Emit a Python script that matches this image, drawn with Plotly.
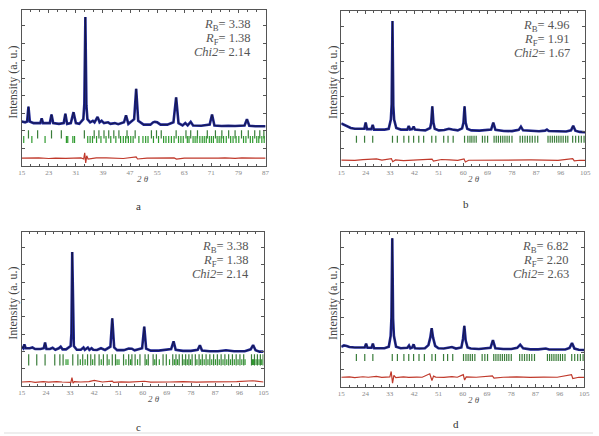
import plotly.graph_objects as go

# ---------------- Panel a ----------------
a_x = [15, 16, 16.6, 17.0, 17.4, 18.5, 20.5, 20.9, 21.3, 23.3, 23.8, 24.3, 26, 27.4, 27.9, 28.4,
       29.5, 30.3, 31, 32, 33.2, 33.5, 33.8, 34.1, 34.4, 35.2, 36, 36.5, 37.4, 38, 38.6, 39.3, 40.5,
       41.2, 42.5, 43.5, 45.2, 45.8, 46.5, 48.2, 48.8, 49.4, 51, 53, 53.8, 54.3, 55, 56, 58,
       59.8, 60.6, 61.3, 62.5, 63.3, 64, 64.9, 65.6, 68, 70.5, 71.2, 71.9, 74, 76, 78, 80.8,
       81.5, 82.2, 84, 87]
a_obs = [28.5, 28, 28.5, 38, 28.5, 27.5, 27.5, 30.5, 27.5, 27.5, 33, 27.5, 27, 27.5, 33.5, 27,
         27.5, 34.5, 27.5, 27, 30, 40, 95.5, 39, 30, 28, 29, 28, 31.5, 28, 29, 27.5, 28,
         27, 27.5, 26.8, 28, 32.5, 27, 30, 49.5, 29, 26.5, 26.5, 28, 28.3, 28, 26.5, 26.5,
         28, 44, 27.5, 26, 27.5, 26, 28.3, 26, 25.8, 26.5, 33, 26, 25.6, 25.8, 25.6, 26,
         30, 25.8, 25.5, 25.5]
a_dx = [15, 18, 20, 23, 25, 28, 30, 32.5, 33.3, 33.6, 33.9, 34.2, 34.6, 37, 40, 43, 45, 48.8, 49.2,
        52, 55, 58, 60, 60.7, 63, 65, 68, 70, 73, 75, 78, 80, 83, 87]
a_diff = [5, 5.3, 5.2, 4.8, 5.1, 4.9, 5, 5.2, 4.5, 8.5, 2, 6.5, 4.5, 5.2, 5.2, 4.9, 4.8, 5.8, 4.5,
          5.1, 5, 4.9, 5.2, 4.4, 5.1, 5, 4.9, 5.1, 5, 5.2, 4.9, 5.2, 5, 5]
a_bragg1 = [17.0, 19.7, 23.8, 26.7, 33.5, 36.4, 37.8, 39.3, 40.7, 42.2, 43.7, 46.1, 48.5, 53.3, 54.8,
            56.2, 60.6, 63.5, 64.9, 66.9, 69.8, 72.2, 74.1, 76.1, 78.0, 79.9, 81.9, 83.8, 85.3, 86.5]
a_bragg2 = [15.6, 18.0, 21.9, 28.2, 28.6, 30.1, 30.6, 34.5, 35.2, 35.9, 37.1, 38.4, 39.9, 41.3, 42.8,
            44.2, 45.0, 45.7, 46.5, 47.2, 47.9, 49.6, 50.8, 51.6, 52.3, 53.9, 55.4, 56.9, 57.6, 58.4,
            59.2, 60.0, 61.3, 62.0, 62.7, 63.9, 64.4, 65.6, 66.2, 66.8, 67.6, 68.3, 68.9, 69.5, 70.4,
            71.0, 71.6, 72.7, 73.3, 73.9, 74.6, 75.4, 76.7, 77.4, 78.3, 79.1, 80.5, 81.2, 82.5, 83.2,
            84.4, 85.0, 85.9, 86.6]
a_ticks = [15, 23, 31, 39, 47, 55, 63, 71, 79, 87]
a_text = ["3.38", "1.38", "2.14"]

# ---------------- Panel b ----------------
b_x = [15, 16, 17, 18.5, 20, 22, 23.5, 24.0, 24.5, 26.1, 26.6, 27.1, 29, 31, 32.5, 33.3, 33.6, 33.9,
       34.2, 34.5, 35.3, 37, 39.4, 39.9, 40.4, 41.2, 41.7, 42.2, 44, 46, 47.8, 48.2, 48.6, 49.0, 49.5,
       51, 53, 54.7, 56, 58, 59.6, 60.1, 60.5, 60.9, 61.5, 63, 66, 70.3, 71.1, 71.9, 75, 78, 80.5,
       81.3, 82.1, 85, 88, 90.2, 90.9, 91.6, 95, 98, 99.8, 100.6, 101.4, 103, 105]
b_obs = [27.5, 26.5, 25.5, 24.5, 24, 23.8, 24, 28, 23.8, 23.8, 26.5, 23.5, 23.5, 23.5, 24, 30, 40,
         93.5, 39, 30, 24.5, 23.5, 23.5, 25.8, 23.5, 23.8, 25.5, 23.5, 23.2, 23, 24.5, 28, 38.5, 28,
         24, 23, 23.2, 24, 23.5, 23, 24.3, 28, 38.5, 28, 24, 23, 22.8, 23.5, 28, 23.3, 22.6, 22.5,
         23.3, 25.4, 23, 22.5, 22.4, 22.8, 23.5, 22.6, 22.3, 22.3, 23, 26, 22.8, 22, 21.8]
b_dx = [15, 18, 20, 23, 25, 28, 30, 33.5, 34, 35, 38, 40, 43, 45, 48.5, 49, 52, 55, 58, 60.3, 60.8,
        62, 66, 70, 75, 80, 85, 90, 95, 100.4, 101, 103, 105]
b_diff = [3.8, 3.4, 3.6, 4.1, 4.2, 4.6, 3.8, 4.7, 2.8, 3.9, 3.5, 3.7, 3.9, 3.8, 4.5, 3.2, 4.2, 3.9,
          3.6, 4.6, 2.6, 3.7, 3.8, 3.9, 3.6, 3.7, 3.9, 3.8, 3.6, 4.8, 3.3, 3.7, 3.6]
b_bragg = [20.6, 23.6, 26.6, 33.9, 35.7, 38.1, 39.9, 41.7, 43.6, 45.4, 48.4, 49.9, 52.8, 54.4, 56.3,
           60.5, 61.7, 62.5, 63.2, 64.0, 64.8, 67.1, 68.0, 69.0, 71.4, 72.2, 73.0, 73.8, 74.6, 75.4,
           76.2, 77.0, 78.0, 81.0, 81.9, 82.8, 83.7, 84.6, 85.5, 86.5, 87.5, 91.3, 92.1, 92.9, 93.7,
           94.5, 95.3, 96.1, 96.9, 97.8, 98.6, 100.4, 101.5, 102.6, 103.6, 104.6]
bcd_ticks = [15, 24, 33, 42, 51, 60, 69, 78, 87, 96, 105]
b_text = ["4.96", "1.91", "1.67"]

# ---------------- Panel c ----------------
c_x = [15, 15.6, 16.0, 16.5, 18, 19, 20, 22, 23.2, 23.7, 24.2, 25.5, 26.5, 27.5, 28.8, 29.5, 30.2,
       31.5, 33.2, 33.5, 33.8, 34.1, 34.4, 35.5, 37, 38, 38.5, 39.6, 40.2, 41, 41.6, 43, 44.5, 46,
       48.0, 48.7, 49.4, 50.5, 53, 54.8, 56, 57, 59.8, 60.6, 61.3, 63, 66, 70.6, 71.5, 72.3, 75,
       78, 80.5, 81.3, 82.1, 85, 88, 91, 94, 98, 100.2, 101.1, 102, 103.5, 105]
c_obs = [25.5, 24.5, 27, 24.5, 24.5, 25, 24, 24, 24.5, 28.2, 24, 24, 24.8, 23.5, 24.5, 25.5, 23.8,
         23.8, 26, 34, 87, 33, 26, 23.5, 23.5, 25, 23.5, 25, 23.5, 24.5, 23.5, 23.4, 24.5, 23.4,
         25.5, 44, 25, 23.3, 23.3, 24.3, 24.2, 23.2, 24.5, 38.5, 24.3, 23, 23, 24, 29, 23.5, 22.8,
         22.8, 23.5, 26.5, 23, 22.6, 22.6, 23.2, 22.6, 22.6, 23.8, 26.6, 23.2, 22.3, 22.3]
c_dx = [15, 18, 20, 23, 25, 28, 30, 33.3, 33.7, 34.1, 34.6, 37, 40, 42, 45, 48.7, 49.2, 52, 55,
        58, 60.6, 63, 66, 70, 75, 80, 85, 90, 95, 101, 105]
c_diff = [2.6, 2.9, 2.4, 2.8, 2.5, 2.9, 2.6, 2.4, 5.5, 1.8, 2.8, 2.6, 2.9, 3.6, 2.6, 3.2, 2.3, 2.7,
          2.5, 2.8, 3.1, 2.5, 2.7, 2.6, 2.8, 2.5, 2.7, 2.6, 2.8, 3.4, 2.6]
c_bragg1 = [17.6, 20.6, 23.7, 27.3, 29.2, 30.4, 34.0, 35.9, 37.7, 39.5, 40.7, 42.2, 43.8, 45.4, 46.8,
            48.7, 49.9, 52.9, 54.8, 56.0, 57.2, 59.0, 60.9, 62.1, 63.9, 65.1, 67.6, 68.8, 71.2, 72.4,
            73.6, 74.8, 76.0, 77.2, 78.4, 79.6, 81.0, 82.2, 83.6, 85.0, 86.4, 87.8, 89.2, 90.6, 92.0,
            93.4, 94.8, 96.2, 97.6, 100.5, 101.6, 102.7, 103.8, 104.8]
c_bragg2 = [31.5, 32.2, 36.8, 38.6, 41.4, 44.6, 47.5, 50.5, 51.2, 53.8, 55.5, 58.1, 61.5, 64.5, 66.2,
            70.0, 71.8, 73.0, 75.4, 76.6, 77.8, 80.2, 81.6, 82.9, 84.3, 85.7, 87.1, 88.5, 89.9, 91.3,
            92.7, 94.1, 95.5, 96.9, 98.1, 100.9, 101.2, 102.2, 103.3, 104.3]
c_text = ["3.38", "1.38", "2.14"]

# ---------------- Panel d ----------------
d_x = [15, 16, 17, 18, 20, 22, 23.7, 24.2, 24.7, 26.2, 26.7, 27.2, 29, 31, 32.6, 33.3, 33.6, 33.9,
       34.2, 34.5, 35.3, 37, 39.5, 40.1, 40.6, 41.3, 41.8, 42.3, 44, 46, 47.3, 48.0, 48.5, 49.0,
       49.8, 51, 53, 54.5, 56, 57.5, 59.5, 60.1, 60.6, 61.1, 61.8, 63, 66, 70.3, 71.2, 72.1, 75, 78,
       80.2, 81.3, 82.4, 85, 88, 90.8, 92, 95, 98, 99.6, 100.5, 101.4, 103, 105]
d_obs = [26, 26.8, 26.5, 25.8, 25.5, 25.3, 25.5, 28, 25.3, 25.3, 28, 25, 25, 25, 26, 33, 45, 96, 44,
         33, 26, 25, 25.3, 26.8, 25, 25.5, 27.5, 25, 24.8, 25, 27, 32, 38, 32, 26.5, 25, 24.8,
         25.5, 25.8, 24.8, 25.5, 31, 39.5, 30, 25.5, 24.8, 24.5, 25.3, 30.3, 25, 24.5, 24.5, 25.3,
         27.3, 25, 24.3, 24.3, 24.8, 24.2, 24.2, 24.2, 25.2, 28.4, 24.8, 24, 23.9]
d_dx = [15, 18, 20, 23, 25, 28, 30, 33.0, 33.5, 34.0, 34.5, 35.2, 38, 40, 43, 45, 47.8, 48.6, 49.2,
        50, 53, 56, 58, 60.2, 60.7, 61.3, 65, 71, 71.6, 75, 80, 85, 90, 95, 100.3, 100.8, 103, 105]
d_diff = [6.3, 6.5, 6.1, 6.6, 6.3, 6.8, 6.2, 6.5, 10, 2.5, 7.5, 6.0, 6.5, 6.2, 6.4, 6.3, 8.5, 4.2,
          7.0, 6.4, 6.2, 6.7, 6.3, 8.0, 4.5, 6.5, 6.3, 7.2, 5.8, 6.3, 6.5, 6.2, 6.4, 6.3, 8.0, 5.5,
          6.3, 6.2]
d_bragg = [20.6, 23.7, 26.7, 33.9, 35.8, 38.2, 40.0, 41.8, 43.8, 45.8, 48.6, 49.9, 52.9, 54.4, 56.3,
           60.3, 61.2, 62.0, 62.8, 63.6, 64.5, 67.2, 68.2, 69.2, 71.5, 72.3, 73.1, 73.9, 74.7, 75.5,
           76.3, 77.1, 78.0, 81.1, 82.0, 82.9, 83.8, 84.7, 85.6, 86.6, 91.4, 92.2, 93.0, 93.8, 94.6,
           95.4, 96.2, 97.0, 97.9, 100.4, 101.5, 102.6, 103.6, 104.6]
d_text = ["6.82", "2.20", "2.63"]

letters = ["a", "b", "c", "d"]

OBS = "#1f2696"
CALC = "#111111"
GREEN1 = "#3a7d3a"
GREEN2 = "#2e9a2e"
DIFF = "#c0392b"
FRAME = "#555555"
SERIF = "Liberation Serif"

fig = go.Figure()

# panel geometry in pixels (left, right, top, bottom), figure 599x436
W, H = 599, 436
geo = [(18, 266, 10, 166), (343, 591, 11, 166), (18, 264, 232, 386), (343, 590, 232, 387)]
theta_px = [141, 478, 153, 478]

panels = [
    dict(x=a_x, y=a_obs, dx=a_dx, dy=a_diff, rows=[(a_bragg1, 20.3, 6, GREEN1), (a_bragg2, 17.0, 5, GREEN2)],
         rng=[15, 87], ticks=a_ticks, minor=8 / 3, text=a_text),
    dict(x=b_x, y=b_obs, dx=b_dx, dy=b_diff, rows=[(b_bragg, 17.3, 5, GREEN1)],
         rng=[15, 105], ticks=bcd_ticks, minor=3, text=b_text),
    dict(x=c_x, y=c_obs, dx=c_dx, dy=c_diff, rows=[(c_bragg1, 17.0, 8, GREEN1), (c_bragg2, 15.5, 4, GREEN2)],
         rng=[15, 105], ticks=bcd_ticks, minor=3, text=c_text),
    dict(x=d_x, y=d_obs, dx=d_dx, dy=d_diff, rows=[(d_bragg, 19.0, 5, GREEN1)],
         rng=[15, 105], ticks=bcd_ticks, minor=3, text=d_text),
]

annotations = []
for i, (p, g) in enumerate(zip(panels, geo)):
    n = "" if i == 0 else str(i + 1)
    xa, ya = "x" + n, "y" + n
    l, r, t, b = g
    fig.add_trace(go.Scatter(x=p["x"], y=p["y"], mode="lines", line=dict(color=OBS, width=2.6),
                             xaxis=xa, yaxis=ya, showlegend=False, hoverinfo="skip"))
    fig.add_trace(go.Scatter(x=p["x"], y=p["y"], mode="lines", line=dict(color=CALC, width=0.7),
                             opacity=0.8, xaxis=xa, yaxis=ya, showlegend=False, hoverinfo="skip"))
    for pos, yy, sz, col in p["rows"]:
        fig.add_trace(go.Scatter(x=pos, y=[yy] * len(pos), mode="markers",
                                 marker=dict(symbol="line-ns", size=sz, line=dict(width=1.2, color=col)),
                                 xaxis=xa, yaxis=ya, showlegend=False, hoverinfo="skip"))
    fig.add_trace(go.Scatter(x=p["dx"], y=p["dy"], mode="lines", line=dict(color=DIFF, width=1.2),
                             xaxis=xa, yaxis=ya, showlegend=False, hoverinfo="skip"))

    common = dict(showline=True, linecolor=FRAME, linewidth=1, mirror="allticks", ticks="inside",
                  ticklen=3, tickcolor=FRAME, showgrid=False, zeroline=False, fixedrange=True)
    fig.layout["xaxis" + n] = dict(
        domain=[l / W, r / W], anchor=ya, range=p["rng"], tickvals=p["ticks"],
        ticktext=[str(v) for v in p["ticks"]],
        tickfont=dict(family=SERIF, size=7, color="#888888"),
        minor=dict(ticks="inside", ticklen=2, dtick=p["minor"], tick0=15, tickcolor=FRAME),
        **common)
    fig.layout["yaxis" + n] = dict(
        domain=[1 - b / H, 1 - t / H], anchor=xa, range=[0, 100], tick0=0, dtick=11.25,
        showticklabels=False,
        minor=dict(ticks="inside", ticklen=2, nticks=3, tickcolor=FRAME),
        **common)

    # y-axis title
    annotations.append(dict(text="Intensity (a. u.)", xref="paper", yref="paper",
                            x=(l - 9) / W, y=1 - ((t + b) / 2 - 6) / H, textangle=-90,
                            xanchor="center", yanchor="middle",
                            showarrow=False, font=dict(family=SERIF, size=12, color="#444444")))
    # 2 theta label
    annotations.append(dict(text="<i>2 θ</i>", xref="paper", yref="paper",
                            x=theta_px[i] / W, y=1 - (b + 13) / H, showarrow=False,
                            xanchor="center", yanchor="middle",
                            font=dict(family=SERIF, size=9, color="#555555")))
    # statistics text
    vals = p["text"]
    lines = [f"<i>R</i><sub>B</sub>= {vals[0]}", f"<i>R</i><sub>F</sub>= {vals[1]}", f"<i>Chi2</i>= {vals[2]}"]
    for k, s in enumerate(lines):
        annotations.append(dict(text=s, xref="paper", yref="paper", x=(r - 13) / W,
                                y=1 - (t + 15 + 13.5 * k) / H, xanchor="right", yanchor="middle",
                                showarrow=False, font=dict(family=SERIF, size=12.5, color="#555555")))

# panel letters
for s, (px, py) in zip(letters, [(137, 206), (470, 204), (137, 427), (460, 424)]):
    annotations.append(dict(text=s, xref="paper", yref="paper", x=px / W, y=1 - py / H,
                            xanchor="center", yanchor="middle",
                            showarrow=False, font=dict(family=SERIF, size=11, color="#333333")))

fig.update_layout(
    width=W, height=H, margin=dict(l=0, r=0, t=0, b=0),
    paper_bgcolor="white", plot_bgcolor="white",
    annotations=annotations,
    shapes=[dict(type="line", xref="paper", yref="paper", x0=0, x1=1, y0=1 - 433 / H, y1=1 - 433 / H,
                 line=dict(color="#dddddd", width=1))],
)

fig.write_html("out.html")
